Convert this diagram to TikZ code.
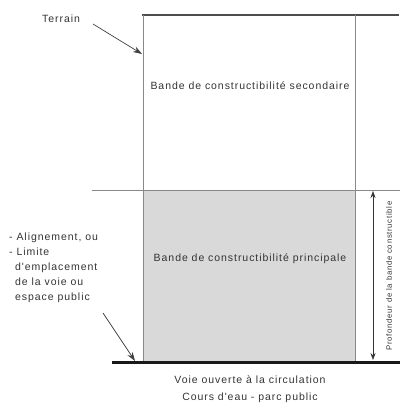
\documentclass[tikz,border=0pt]{standalone}
\usepackage{fontspec}
\setmainfont{Liberation Sans}
\newfontfamily\widefont[LetterSpace=9]{Liberation Sans}
\usetikzlibrary{arrows.meta}
\definecolor{txt}{HTML}{333333}
\definecolor{ln}{HTML}{888888}
\definecolor{fillg}{HTML}{D9D9D9}
\tikzset{
  lab/.style={font=\widefont\fontsize{10.5}{15}\selectfont, text=txt, inner sep=0pt},
  thin line/.style={draw=ln, line width=0.8pt},
  ptr/.style={draw=black!75, line width=0.7pt, -{Stealth[length=9pt,width=6pt,inset=3pt]}},
}
\begin{document}
\begin{tikzpicture}[x=1pt,y=-1pt]
\useasboundingbox (0,0) rectangle (400,408);
% gray box
\fill[fillg] (143,190) rectangle (355,361);
% lines
\draw[draw=black!70, line width=2pt] (142,15) -- (399,15);
\draw[thin line] (143,15) -- (143,361);
\draw[thin line] (355,15) -- (355,361);
\draw[thin line] (92,190) -- (400,190);
\draw[draw=black!90, line width=3pt] (112,362) -- (400,362);
% coordinates
\coordinate (tA) at (93,24);
\coordinate (tB) at (142,54);
\coordinate (aA) at (103,313);
\coordinate (aB) at (135,361);
\coordinate (dT) at (373,191);
\coordinate (dB) at (373,360);
% arrows
\draw[ptr] (tA) -- (tB);
\draw[ptr] (aA) -- (aB);
\draw[draw=black!80, line width=0.6pt, {Stealth[length=7pt,width=5pt]}-{Stealth[length=7pt,width=5pt]}] (dT) -- (dB);
% texts
\node[lab, anchor=west] (terrain) at (42,19) {Terrain};
\node[lab] (sec) at (250,86) {Bande de constructibilité secondaire};
\node[lab] (pri) at (250,259) {Bande de constructibilité principale};
\node[lab, anchor=north west, align=left] (align) at (9,233)
  {- Alignement, ou\\- Limite\\\hspace*{6pt}d'emplacement\\\hspace*{6pt}de la voie ou\\\hspace*{6pt}espace public};
\node[lab, align=center, font=\widefont\fontsize{10.5}{17}\selectfont] (voie) at (250,389)
  {Voie ouverte à la circulation\\Cours d'eau - parc public};
\node[lab, rotate=90, font=\widefont\fontsize{7.8}{9}\selectfont] (prof) at (389,276) {Profondeur de la bande constructible};
\end{tikzpicture}
\end{document}
